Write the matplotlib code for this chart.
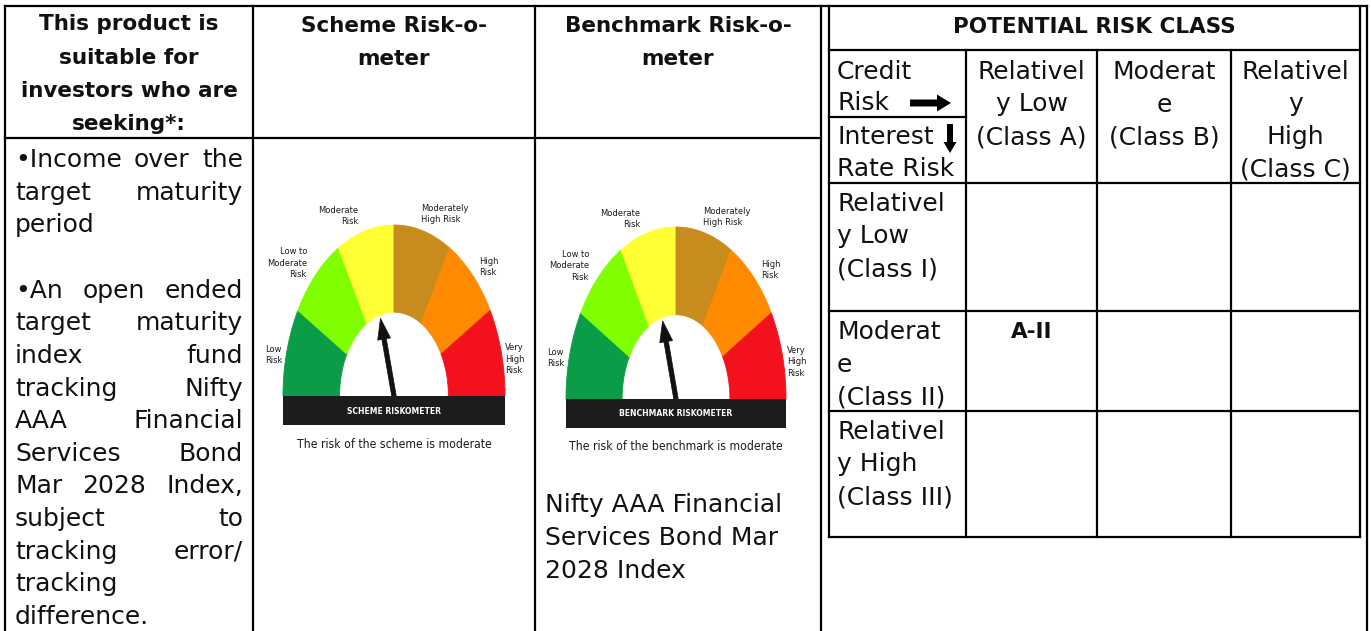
import matplotlib
matplotlib.use("Agg")
import matplotlib.pyplot as plt
from matplotlib.patches import Polygon, Rectangle, FancyArrow
from matplotlib import font_manager
import numpy as np

# ---------------- data ----------------
suitability_header = ["This product is", "suitable for", "investors who are", "seeking*:"]
suitability_paragraphs = [
    ["\u2022Income over the", "target maturity", "period"],
    ["\u2022An open ended", "target maturity", "index fund", "tracking Nifty",
     "AAA Financial", "Services Bond", "Mar 2028 Index,", "subject to",
     "tracking error/", "tracking", "difference."],
]
scheme_header = ["Scheme Risk-o-", "meter"]
benchmark_header = ["Benchmark Risk-o-", "meter"]
benchmark_name = ["Nifty AAA Financial", "Services Bond Mar", "2028 Index"]

risk_levels = ["Low\nRisk", "Low to\nModerate\nRisk", "Moderate\nRisk",
               "Moderately\nHigh Risk", "High\nRisk", "Very\nHigh\nRisk"]
risk_colors = ["#0b9c47", "#80ff00", "#ffff33", "#c78b1e", "#ff8a00", "#f4111e"]
scheme_level = 2       # Moderate
benchmark_level = 2    # Moderate
scheme_bar = "SCHEME RISKOMETER"
benchmark_bar = "BENCHMARK RISKOMETER"
scheme_caption = "The risk of the scheme is moderate"
benchmark_caption = "The risk of the benchmark is moderate"

prc_title = "POTENTIAL RISK CLASS"
prc_corner_top = ["Credit", "Risk"]
prc_corner_bottom = ["Interest", "Rate Risk"]
credit_classes = [["Relativel", "y Low", "(Class A)"],
                  ["Moderat", "e", "(Class B)"],
                  ["Relativel", "y", "High", "(Class C)"]]
rate_classes = [["Relativel", "y Low", "(Class I)"],
                ["Moderat", "e", "(Class II)"],
                ["Relativel", "y High", "(Class III)"]]
prc_marks = [("A-II", 1, 0)]   # (label, rate row, credit column)

# ---------------- layout / style ----------------
W, H = 1371, 631
fig = plt.figure(figsize=(W / 100, H / 100), dpi=100)
ax = fig.add_axes([0, 0, 1, 1])
ax.set_xlim(0, W)
ax.set_ylim(H, 0)
ax.axis("off")
renderer = fig.canvas.get_renderer()

BODY = dict(family="DejaVu Sans", fontsize=18, color="#111111")
HEAD = dict(family="DejaVu Sans", fontsize=15.5, fontweight="bold", color="#111111")


def pick_narrow():
    cands = [("Liberation Sans Narrow", "normal"),
             ("DejaVu Sans", "condensed"),
             ("Noto Sans", "condensed"),
             ("Open Sans", "condensed"),
             ("Roboto Condensed", "normal"),
             ("Noto Sans", "semi-condensed")]
    for fam, st in cands:
        try:
            path = font_manager.findfont(
                font_manager.FontProperties(family=fam, stretch=st),
                fallback_to_default=False)
        except Exception:
            continue
        low = path.lower()
        if "narrow" in low or "condensed" in low:
            return dict(family=fam, fontstretch=st), 1.0
    return dict(family="DejaVu Sans"), 0.8


NARROW, nscale = pick_narrow()

LW = 1.6
K = "#000000"


def line(x0, y0, x1, y1):
    ax.plot([x0, x1], [y0, y1], color=K, lw=LW, solid_capstyle="projecting")


def text_width(s, **kw):
    t = ax.text(0, 0, s, **kw)
    w = t.get_window_extent(renderer=renderer).width
    t.remove()
    return w


def put_line(s, x0, x1, y, justify, **kw):
    words = s.split(" ")
    if not justify or len(words) == 1:
        ax.text(x0, y, s, ha="left", va="baseline", **kw)
        return
    widths = [text_width(w, **kw) for w in words]
    gap = (x1 - x0 - sum(widths)) / (len(words) - 1)
    x = x0
    for w, wd in zip(words, widths):
        ax.text(x, y, w, ha="left", va="baseline", **kw)
        x += wd + gap


# ---------------- outer table ----------------
TOP = 6
cols = [5, 253, 535, 821, 1367]
for x in cols:
    line(x, TOP, x, H + 5)
line(cols[0], TOP, cols[-1], TOP)
line(cols[0], 138, cols[3], 138)

# headers
for i, s in enumerate(suitability_header):
    ax.text(129, 30 + i * 33.5, s, ha="center", va="baseline", **HEAD)
for i, s in enumerate(scheme_header):
    ax.text(394, 32 + i * 33, s, ha="center", va="baseline", **HEAD)
for i, s in enumerate(benchmark_header):
    ax.text(678, 32 + i * 33, s, ha="center", va="baseline", **HEAD)

# suitability body (justified)
y = 167
step = 32.65
for p, para in enumerate(suitability_paragraphs):
    for j, s in enumerate(para):
        put_line(s, 15, 243, y, justify=(j < len(para) - 1), **BODY)
        y += step
    y += step

# benchmark name
for i, s in enumerate(benchmark_name):
    ax.text(545, 512 + i * 33, s, ha="left", va="baseline", **BODY)


# ---------------- gauges ----------------
def gauge(cx, cy, rx, ry, level, bar_label, caption):
    n = len(risk_levels)
    stp = 180.0 / n
    inner = 0.49
    for i, col in enumerate(risk_colors):
        a0, a1 = 180 - i * stp, 180 - (i + 1) * stp
        t = np.radians(np.linspace(a0, a1, 40))
        outer_pts = np.c_[cx + rx * np.cos(t), cy - ry * np.sin(t)]
        tr = t[::-1]
        inner_pts = np.c_[cx + rx * inner * np.cos(tr), cy - ry * inner * np.sin(tr)]
        ax.add_patch(Polygon(np.vstack([outer_pts, inner_pts]), closed=True,
                             fc=col, ec=col, lw=0.6))
    # needle
    ang = np.radians(180 - (level + 0.5) * stp)
    tipx = cx + rx * 0.47 * np.cos(ang)
    tipy = cy - ry * 0.47 * np.sin(ang)
    ax.add_patch(FancyArrow(cx, cy, tipx - cx, tipy - cy, width=4.5, head_width=13,
                            head_length=21, length_includes_head=True,
                            fc="#111111", ec="#111111", lw=0.5))
    # base bar
    ax.add_patch(Rectangle((cx - rx, cy), 2 * rx, 29, fc="#1c1c1c", ec="none"))
    ax.text(cx, cy + 15, bar_label, ha="center", va="center", color="white",
            fontweight="bold", fontsize=6.1 * nscale, **NARROW)
    ax.text(cx, cy + 48, caption, ha="center", va="center", color="#1a1a1a",
            fontsize=8.7 * nscale, fontweight="medium", **NARROW)
    # labels
    offs = [(-112, -41, "right"), (-87, -133, "right"), (-36, -180, "right"),
            (27, -182, "left"), (85, -129, "left"), (111, -37, "left")]
    for lab, (dx, dy, ha) in zip(risk_levels, offs):
        ax.text(cx + dx, cy + dy, lab, ha=ha, va="center", multialignment=ha,
                color="#1a1a1a", fontsize=6.7 * nscale, linespacing=1.3,
                fontweight="medium", **NARROW)


gauge(394, 396, 111, 171, scheme_level, scheme_bar, scheme_caption)
gauge(676, 399, 110, 172, benchmark_level, benchmark_bar, benchmark_caption)

# ---------------- potential risk class table ----------------
PL, PR = 829, 1360
pcols = [PL, 966, 1097, 1231, PR]
prows = [TOP, 50, 183, 311, 411, 537]
line(PL, TOP, PL, prows[-1])
line(PR, TOP, PR, prows[-1])
for yy in prows[1:]:
    line(PL, yy, PR, yy)
for x in pcols[1:-1]:
    line(x, prows[1], x, prows[-1])
line(PL, 117, pcols[1], 117)

ax.text((PL + PR) / 2, 33, prc_title, ha="center", va="baseline", **HEAD)

ax.text(837, 79, prc_corner_top[0], ha="left", va="baseline", **BODY)
ax.text(837, 110, prc_corner_top[1], ha="left", va="baseline", **BODY)
ax.add_patch(FancyArrow(910, 103, 41, 0, width=7, head_width=17, head_length=14,
                        length_includes_head=True, fc=K, ec=K, lw=0))
ax.text(837, 144, prc_corner_bottom[0], ha="left", va="baseline", **BODY)
ax.text(837, 176, prc_corner_bottom[1], ha="left", va="baseline", **BODY)
ax.add_patch(FancyArrow(950, 124, 0, 29, width=6, head_width=13, head_length=11,
                        length_includes_head=True, fc=K, ec=K, lw=0))

for c, lines in enumerate(credit_classes):
    xc = (pcols[c + 1] + pcols[c + 2]) / 2
    for i, s in enumerate(lines):
        ax.text(xc, 79 + i * 32.5, s, ha="center", va="baseline", **BODY)

for r, lines in enumerate(rate_classes):
    y0 = prows[r + 2] + 28
    for i, s in enumerate(lines):
        ax.text(837, y0 + i * 32.5, s, ha="left", va="baseline", **BODY)

for lab, r, c in prc_marks:
    xc = (pcols[c + 1] + pcols[c + 2]) / 2
    ax.text(xc, prows[r + 2] + 27, lab, ha="center", va="baseline", **HEAD)

fig.savefig("out.png", dpi=100)
